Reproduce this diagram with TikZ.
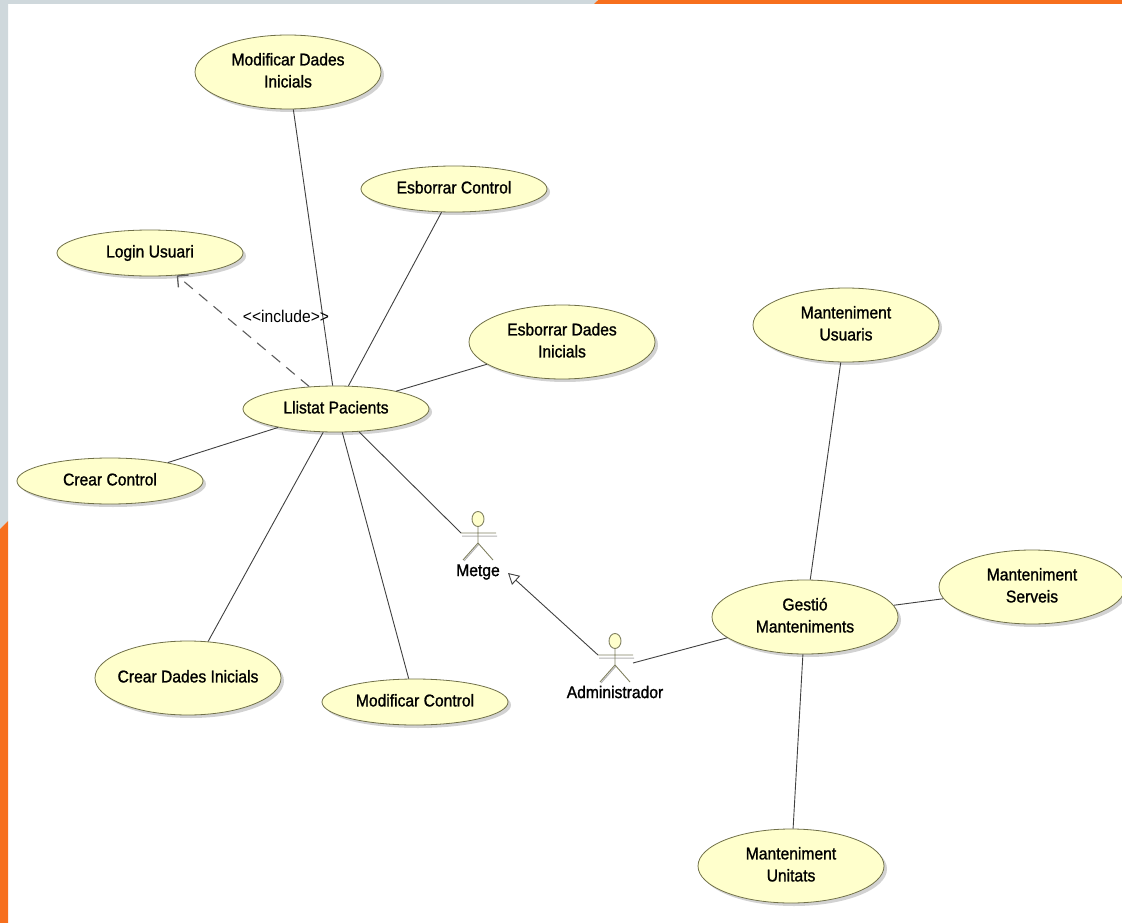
\documentclass[tikz,border=0pt]{standalone}
\usepackage{fontspec}
\setmainfont{Liberation Sans}[FakeStretch=0.92,FakeBold=1.2]
\newfontfamily\plainfont{Liberation Sans}[FakeStretch=0.92]
\usepackage{tikz}
\usetikzlibrary{shapes.geometric,shadows,arrows.meta}

\definecolor{ucfill}{RGB}{255,255,204}
\definecolor{ucdraw}{RGB}{112,112,72}
\definecolor{linegray}{RGB}{64,64,64}
\definecolor{framegray}{RGB}{207,216,220}
\definecolor{frameorange}{RGB}{247,111,29}
\definecolor{actorcol}{RGB}{128,128,96}

\tikzset{
	usecase/.style={ellipse,draw=ucdraw,fill=ucfill,line width=0.8pt,minimum width=186pt,minimum height=46pt,inner xsep=-40pt,inner ysep=0pt,drop shadow={shadow xshift=3pt,shadow yshift=-3pt,fill=black!35}},
	bigcase/.style={usecase,minimum height=74pt},
	assoc/.style={draw=linegray,line width=0.9pt},
	incl/.style={draw=linegray!85,line width=1.1pt,dash pattern=on 11pt off 8pt,-{Straight Barb[length=8pt,width=16pt,line width=1.3pt]}},
	gen/.style={assoc,-{Triangle[open,length=11pt,width=12pt]}},
	actor/.pic={
		\draw[black!30,line width=1pt] (-16,17) -- (19,17) (1,25) -- (-14,42);
		\draw[actorcol,line width=0.9pt] (-17,14) -- (18,14) (0,7) -- (0,24) -- (-15,41) (0,24) -- (15,41);
		\draw[actorcol,line width=0.9pt,fill=ucfill] (0,0) ellipse (6pt and 7.5pt);
		\coordinate (-arm) at (-17,14);
		\coordinate (-right) at (18,22);
		\coordinate (-foot) at (30,54);
	}
}

\begin{document}
\begin{tikzpicture}[x=1pt,y=-1pt,font=\fontsize{17}{22}\selectfont]
		\useasboundingbox (0,0) rectangle (1122,923);
		
		% frame
		\fill[framegray] (0,0) rectangle (597,4);
		\fill[frameorange] (594,4) -- (598,0) -- (1122,0) -- (1122,4) -- cycle;
		\fill[framegray] (0,0) -- (8,0) -- (8,521) -- (0,529) -- cycle;
		\fill[frameorange] (0,529) -- (8,521) -- (8,923) -- (0,923) -- cycle;
		
		% use cases
		\node[bigcase] (mdi) at (288,72){\begin{tabular}{c}Modificar Dades\\Inicials\end{tabular}};
		\node[usecase] (ec) at (454,189){\begin{tabular}{c}Esborrar Control\end{tabular}};
		\node[usecase] (login) at (150,253){\begin{tabular}{c}Login Usuari\end{tabular}};
		\node[bigcase] (edi) at (562,342){\begin{tabular}{c}Esborrar Dades\\Inicials\end{tabular}};
		\node[usecase] (llistat) at (336,409){\begin{tabular}{c}Llistat Pacients\end{tabular}};
		\node[usecase] (cc) at (110,481){\begin{tabular}{c}Crear Control\end{tabular}};
		\node[bigcase] (cdi) at (188,678){\begin{tabular}{c}Crear Dades Inicials\end{tabular}};
		\node[usecase] (mc) at (415,702){\begin{tabular}{c}Modificar Control\end{tabular}};
		
		\node[bigcase] (mu) at (846,325){\begin{tabular}{c}Manteniment\\Usuaris\end{tabular}};
		\node[bigcase] (gm) at (805,617){\begin{tabular}{c}Gestió\\Manteniments\end{tabular}};
		\node[bigcase] (ms) at (1032,587){\begin{tabular}{c}Manteniment\\Serveis\end{tabular}};
		\node[bigcase] (mun) at (791,866){\begin{tabular}{c}Manteniment\\Unitats\end{tabular}};
		
		% actors
		\pic (metge) at (478,519) {actor};
		\node (metgelbl) at (478,572){Metge};
		\pic (admin) at (615,641) {actor};
		\node (adminlbl) at (615,692){Administrador};
		
		% connectors
		\draw[assoc] (mdi) -- (llistat);
		\draw[assoc] (ec) -- (llistat);
		\draw[assoc] (edi) -- (llistat);
		\draw[assoc] (cc) -- (llistat);
		\draw[assoc] (cdi) -- (llistat);
		\draw[assoc] (mc) -- (llistat);
		\draw[assoc] (llistat) -- (metge-arm);
		\draw[incl] (llistat) -- (login);
		\node[font=\plainfont\fontsize{17}{22}\selectfont] (incllbl) at (286,316){<\kern0pt<include>\kern0pt>};
		
		\draw[gen] (admin-arm) -- (metge-foot);
		\draw[assoc] (admin-right) -- (gm);
		\draw[assoc] (gm) -- (mu);
		\draw[assoc] (gm) -- (ms);
		\draw[assoc] (gm) -- (mun);
	\end{tikzpicture}
\end{document}
